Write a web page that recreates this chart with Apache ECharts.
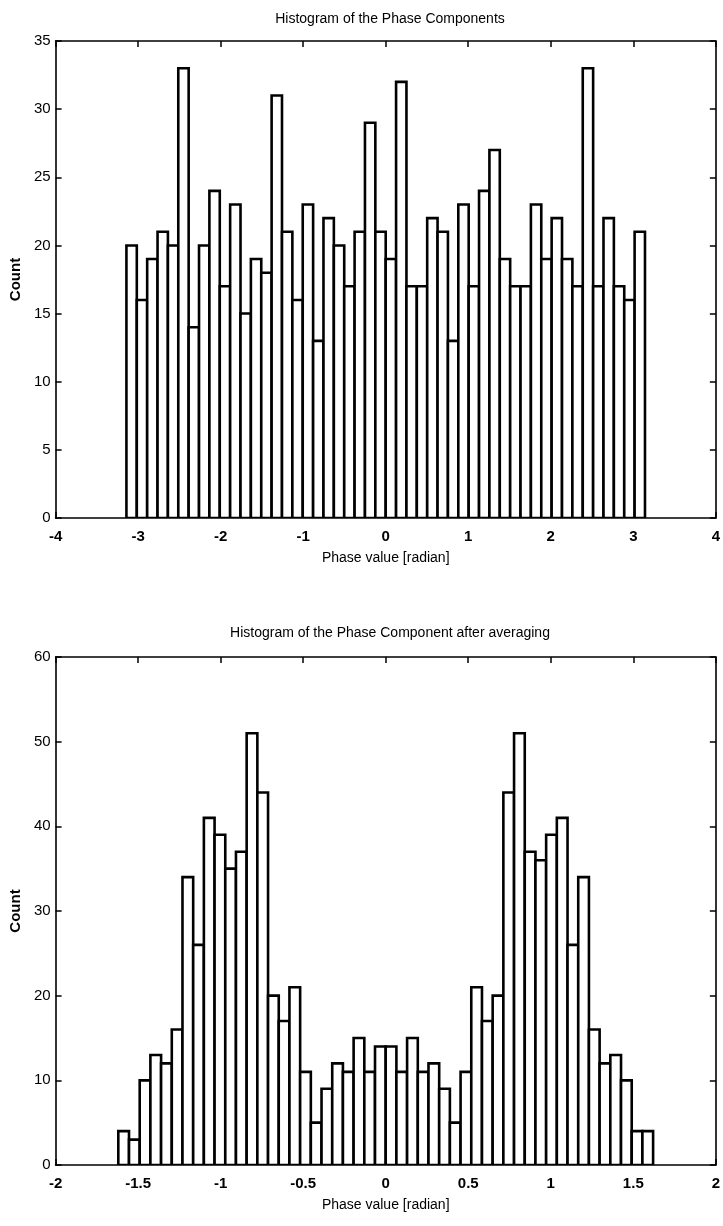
<!DOCTYPE html>
<html>
<head>
<meta charset="utf-8">
<script src="https://cdn.jsdelivr.net/npm/echarts@6/dist/echarts.min.js"></script>
<style>
html,body{margin:0;padding:0;background:#fff;}
#c{width:723px;height:1226px;}
</style>
</head>
<body>
<div id="c"></div>
<script>
// ---- data ----
const topTitle = 'Histogram of the Phase Components';
const bottomTitle = 'Histogram of the Phase Component after averaging';
const xName = 'Phase value [radian]';
const yName = 'Count';

// top histogram: 50 bins spanning [-pi, pi]
const topRange = [-3.1416, 3.1416];
const topCounts = [20,16,19,21,20,33,14,20,24,17,23,15,19,18,31,21,16,23,13,22,
                   20,17,21,29,21,19,32,17,17,22,21,13,23,17,24,27,19,17,17,23,
                   19,22,19,17,33,17,22,17,16,21];
const topXTicks = [-4, 4, 1];
const topYTicks = [0, 35, 5];

// bottom histogram: 50 bins spanning about [-1.62, 1.62]
const bottomRange = [-1.62, 1.62];
const bottomCounts = [4,3,10,13,12,16,34,26,41,39,35,37,51,44,20,17,21,11,5,9,
                      12,11,15,11,14,14,11,15,11,12,9,5,11,21,17,20,44,51,37,36,
                      39,41,26,34,16,12,13,10,4,4];
const bottomXTicks = [-2, 2, 0.5];
const bottomYTicks = [0, 60, 10];

// ---- build histogram bins ----
function bins(range, counts) {
  const w = (range[1] - range[0]) / counts.length;
  return counts.map((c, i) => [range[0] + i * w, range[0] + (i + 1) * w, c]);
}

const FONT = "'Liberation Sans Narrow', 'Liberation Sans', Arial, sans-serif";
const BLACK = '#000';

function renderBar(params, api) {
  const p0 = api.coord([api.value(0), 0]);
  const p1 = api.coord([api.value(1), api.value(2)]);
  return {
    type: 'rect',
    shape: { x: p0[0], y: p1[1], width: p1[0] - p0[0], height: p0[1] - p1[1] },
    style: { fill: '#fff', stroke: BLACK, lineWidth: 2.6 }
  };
}

function xAxes(gi, t) {
  const common = {
    type: 'value', gridIndex: gi, min: t[0], max: t[1], interval: t[2],
    axisLine: { show: true, onZero: false, lineStyle: { color: BLACK, width: 1.6 } },
    axisTick: { show: true, inside: true, length: 6, lineStyle: { color: BLACK, width: 1.5 } },
    splitLine: { show: false }
  };
  return [
    Object.assign({}, common, {
      position: 'bottom',
      axisLabel: { color: BLACK, fontSize: 15, fontWeight: 'bold', fontFamily: FONT, margin: 11 },
      name: xName, nameLocation: 'middle', nameGap: 33,
      nameTextStyle: { color: BLACK, fontSize: 14, fontFamily: FONT }
    }),
    Object.assign({}, common, { position: 'top', axisLabel: { show: false } })
  ];
}

function yAxes(gi, t) {
  const common = {
    type: 'value', gridIndex: gi, min: t[0], max: t[1], interval: t[2],
    axisLine: { show: true, onZero: false, lineStyle: { color: BLACK, width: 1.6 } },
    axisTick: { show: true, inside: true, length: 6, lineStyle: { color: BLACK, width: 1.5 } },
    splitLine: { show: false }
  };
  return [
    Object.assign({}, common, {
      position: 'left',
      axisLabel: { color: BLACK, fontSize: 15, fontFamily: FONT, margin: 5 },
      name: yName, nameLocation: 'middle', nameGap: 22, nameRotate: 90,
      nameTextStyle: { color: BLACK, fontSize: 15, fontWeight: 'bold', fontFamily: FONT }
    }),
    Object.assign({}, common, { position: 'right', axisLabel: { show: false } })
  ];
}

const chart = echarts.init(document.getElementById('c'), null, { renderer: 'canvas' });
chart.setOption({
  animation: false,
  backgroundColor: '#fff',
  title: [
    { text: topTitle, left: 385, top: 7, textAlign: 'center',
      textStyle: { color: BLACK, fontSize: 14, fontWeight: 'normal', fontFamily: FONT } },
    { text: bottomTitle, left: 385, top: 621, textAlign: 'center',
      textStyle: { color: BLACK, fontSize: 14, fontWeight: 'normal', fontFamily: FONT } }
  ],
  grid: [
    { left: 54, right: 7, top: 41, height: 477 },
    { left: 54, right: 7, top: 657, height: 508 }
  ],
  xAxis: xAxes(0, topXTicks).concat(xAxes(1, bottomXTicks)),
  yAxis: yAxes(0, topYTicks).concat(yAxes(1, bottomYTicks)),
  series: [
    { type: 'custom', xAxisIndex: 0, yAxisIndex: 0, renderItem: renderBar,
      data: bins(topRange, topCounts), encode: { x: [0, 1], y: 2 }, clip: true },
    { type: 'custom', xAxisIndex: 2, yAxisIndex: 2, renderItem: renderBar,
      data: bins(bottomRange, bottomCounts), encode: { x: [0, 1], y: 2 }, clip: true }
  ]
});
</script>
</body>
</html>
